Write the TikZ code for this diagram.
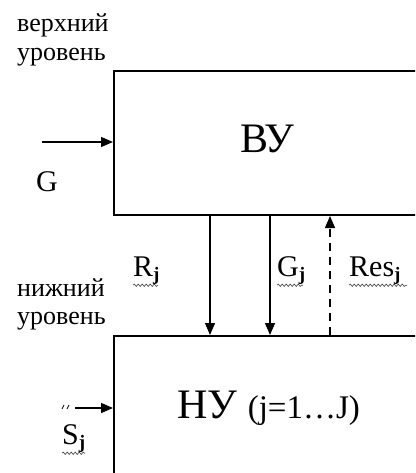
\documentclass[tikz,border=0pt]{standalone}
\usepackage{fontspec}
\setmainfont{Liberation Serif}
\usetikzlibrary{arrows.meta,decorations.pathmorphing}

% small bold index under the signal names
\newcommand{\idxj}{\raisebox{-4pt}{\fontsize{19}{19}\selectfont\bfseries j}}

\tikzset{
  blockbox/.style={draw, line width=2pt, anchor=north west, inner sep=0pt},
  arr/.style={-{Triangle[length=12pt,width=10pt]}, line width=1.3pt},
  bigtext/.style={font=\fontsize{42}{44}\selectfont, inner sep=0pt, anchor=base west},
  sigtext/.style={font=\fontsize{30}{32}\selectfont, inner sep=0pt, anchor=base west},
  leveltext/.style={font=\fontsize{26}{28}\selectfont, inner sep=0pt, anchor=base west},
  squiggle/.style={decorate, decoration={snake, amplitude=1.2pt, segment length=4pt},
    line width=0.6pt, black!75}
}

\begin{document}
\begin{tikzpicture}[x=1pt, y=-1pt]
        \useasboundingbox (0,0) rectangle (415,473);
        \clip (0,0) rectangle (415,473);

        % Levels
        \node[leveltext] (up1) at (17,32) {верхний};
        \node[leveltext] (up2) at (17,61) {уровень};
        \node[leveltext] (low1) at (17,296) {нижний};
        \node[leveltext] (low2) at (17,324) {уровень};

        % Blocks (cut by the right and bottom edges)
        \node[blockbox, minimum width=340pt, minimum height=144pt] (vu) at (113,70) {};
        \node[blockbox, minimum width=340pt, minimum height=170pt] (nu) at (113,335) {};
        \node[bigtext] (vutext) at (240,153) {ВУ};
        \node[bigtext] (nutext) at (177,418)
            {НУ {\fontsize{33}{35}\selectfont(j=1\ldots J)}};

        % Links between the levels
        \coordinate (rx) at (210,0);
        \coordinate (gx) at (270,0);
        \coordinate (resx) at (330,0);
        \draw[arr] (vu.south -| rx) -- (nu.north -| rx);
        \draw[arr] (vu.south -| gx) -- (nu.north -| gx);
        \draw[arr, dash pattern=on 8pt off 6pt] (nu.north -| resx) -- (vu.south -| resx);

        \node[sigtext] (rlab) at (133,276) {R\idxj};
        \node[sigtext] (glab) at (277,276) {G\idxj};
        \node[sigtext] (reslab) at (349,276) {Res\idxj};

        % Inputs
        \coordinate (gin) at (42,142);
        \draw[arr] (gin) -- (gin -| vu.west);
        \node[sigtext] (gname) at (36,191) {G};

        \coordinate (sin) at (75,408);
        \draw[arr] (sin) -- (sin -| nu.west);
        \draw[line width=0.7pt] (62,409) -- (64,405) (67,409) -- (69,405);
        \node[sigtext] (sname) at (62,444) {S\idxj};

        % Wavy underlines
        \draw[squiggle] (rlab.south west) ++(0,1) -- ++(25,0);
        \draw[squiggle] (glab.south west) ++(0,1) -- ++(26,0);
        \draw[squiggle] (reslab.south west) ++(0,1) -- ++(58,0);
        \draw[squiggle] (sname.south west) ++(0,1) -- ++(23,0);
\end{tikzpicture}
\end{document}
